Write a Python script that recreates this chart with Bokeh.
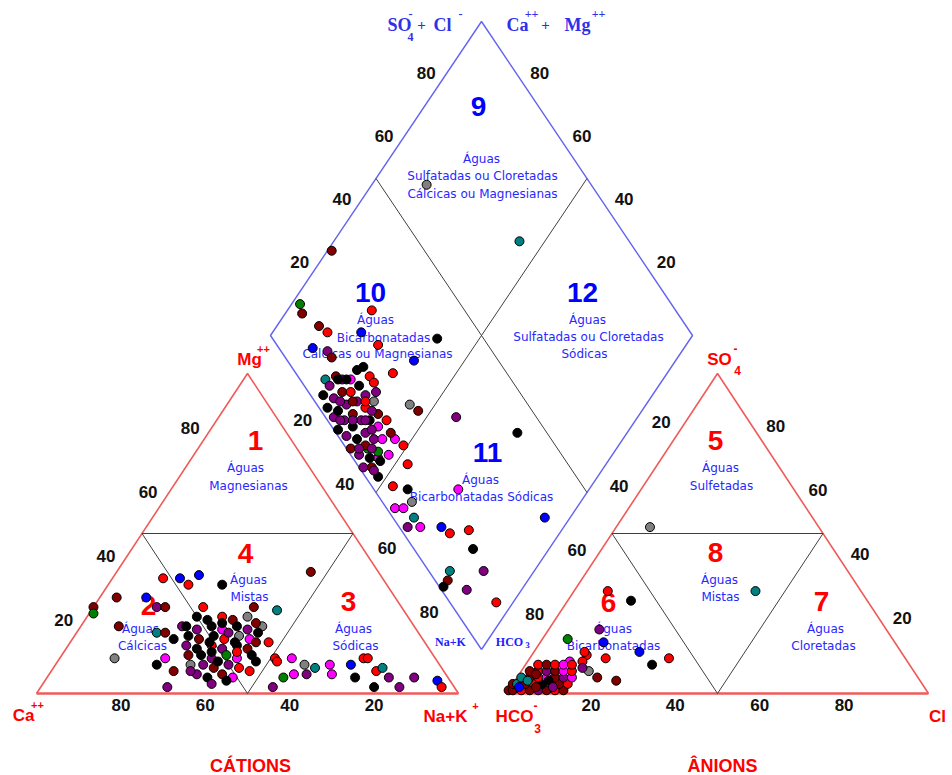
from bokeh.plotting import figure
from bokeh.models import Range1d, ColumnDataSource
from bokeh.core.properties import value
from bokeh.embed import file_html
from bokeh.resources import INLINE

# ---------------- data ----------------
PALETTE = {"k": "#000000", "p": "#800080", "dr": "#800000", "r": "#ff0000",
           "b": "#0000ff", "m": "#ff00ff", "t": "#008080", "g": "#008000", "gy": "#808080"}

tick_values = [20, 40, 60, 80]

# Cation triangle: Mg++ % and Na+K % (Ca++ = 100 - both)
cat_mg = [27, 25, 30, 36, 36, 34, 37, 34, 38, 30, 27, 27, 27, 27, 26, 21, 19, 19, 21, 11,
          11, 9, 17, 7, 2, 21, 16, 10, 7, 11, 10, 11, 9, 8, 6, 5, 6, 2, 9, 6,
          9, 11, 11, 7, 8, 5, 5, 2, 2, 5, 4, 2,
          24, 23, 24, 23, 24, 22, 21, 20, 21, 20, 21, 20, 19, 18, 17, 18, 17, 18, 17, 16,
          15, 14, 15, 14, 15, 14, 12, 12, 11, 12, 11, 12, 9, 9, 8, 9, 8, 6, 5, 6, 5,
          22, 16, 13, 19, 16, 10, 13, 7, 3, 4]
cat_nak = [0, 1, 4, 12, 16, 19, 20, 27, 46, 11, 15, 17, 26, 38, 44, 9, 19, 21, 24, 13,
           25, 24, 24, 29, 30, 43, 47, 47, 47, 51, 52, 55, 59, 62, 61, 56, 58, 55, 65, 67,
           70, 72, 73, 77, 78, 81, 73, 79, 85, 87, 93, 95,
           26, 29, 32, 35, 38, 41, 25, 28, 31, 34, 37, 40, 43, 27, 30, 33, 36, 39, 42, 44,
           28, 31, 34, 37, 40, 43, 30, 33, 36, 39, 42, 45, 32, 35, 38, 41, 44, 35, 38, 41, 44,
           33, 33, 35, 36, 39, 38, 41, 33, 40, 43]
cat_color = ["dr", "g", "dr", "r", "b", "r", "b", "k", "dr", "b", "p", "dr", "r", "dr", "t", "dr", "t", "dr", "p", "gy",
             "m", "k", "k", "dr", "p", "gy", "r", "k", "r", "r", "r", "m", "gy", "t", "p", "g", "m", "p", "m", "m",
             "b", "r", "r", "r", "t", "p", "k", "k", "p", "p", "b", "r",
             "k", "k", "r", "dr", "gy", "dr", "k", "p", "k", "m", "k", "p", "k", "k", "dr", "k", "r", "gy", "m", "dr",
             "p", "k", "r", "p", "k", "dr", "dr", "k", "p", "g", "m", "k", "gy", "p", "dr", "p", "r", "p", "k", "dr", "m",
             "k", "k", "k", "p", "k", "k", "r", "p", "p", "k"]

# Anion triangle: SO4-- % and Cl- % (HCO3- = 100 - both)
an_so4 = [52, 32, 32, 29, 20, 17, 16, 13, 11, 9, 12, 10, 11, 7, 5, 4, 10, 8, 13,
          1, 1, 1, 1, 1, 1, 1, 1, 3, 3, 3, 3, 3, 3, 3, 3, 5, 5, 5, 5, 5, 5, 5,
          7, 7, 7, 7, 7, 7, 9, 9, 9, 9, 9, 2, 4, 2, 4, 6, 2]
an_cl = [8, 43, 8, 15, 12, 6, 15, 25, 33, 30, 13, 13, 18, 16, 19, 24, 10, 14, 12,
         0, 1, 3, 5, 7, 9, 11, 13, 0, 1, 3, 5, 7, 9, 11, 13, 1, 3, 5, 7, 9, 11, 13,
         2, 4, 6, 8, 10, 12, 3, 5, 7, 9, 11, 2, 3, 6, 8, 4, 10]
an_color = ["gy", "t", "r", "k", "p", "g", "b", "b", "r", "k", "r", "r", "r", "gy", "dr", "dr", "m", "p", "r",
            "dr", "dr", "r", "dr", "p", "dr", "r", "dr", "dr", "t", "dr", "r", "k", "m", "dr", "r",
            "t", "dr", "r", "m", "dr", "p", "m", "dr", "r", "p", "dr", "m", "r",
            "r", "dr", "r", "m", "r", "b", "t", "dr", "k", "dr", "p"]

# Diamond: Ca+Mg % and SO4+Cl %
dia_cm = [56, 87, 99, 98, 96, 80, 90, 87, 79, 60, 73, 88, 84, 82, 62, 65, 80, 78, 76, 74,
          73, 74, 70, 68, 66, 56, 53, 43, 26, 54, 51, 47, 59, 55, 55, 52, 47, 43, 40, 31,
          43, 41, 6, 37, 37, 34, 29, 26, 22, 18, 20, 19, 19, 12, 13, 4,
          78, 78, 77, 75, 75, 74, 75, 72, 72, 71, 72, 71, 69, 69, 68, 69, 68, 66, 66, 65,
          66, 65, 63, 63, 62, 63, 62, 60, 60, 59, 60, 59, 57, 57, 56, 57, 56, 54, 54, 53,
          70, 67, 64, 61, 58, 73, 70, 67, 64, 61]
dia_sc = [74, 61, 28, 12, 11, 28, 13, 14, 22, 39, 24, 8, 11, 11, 30, 23, 6, 9, 10, 12,
          17, 15, 17, 17, 16, 22, 23, 31, 43, 13, 14, 12, 5, 6, 3, 3, 5, 8, 7, 20,
          2, 4, 36, 5, 2, 5, 10, 11, 16, 14, 5, 3, 1, 13, 6, 11,
          3, 6, 9, 2, 5, 8, 11, 2, 4, 7, 10, 13, 1, 4, 7, 10, 13, 2, 5, 8,
          11, 14, 1, 4, 7, 10, 13, 2, 5, 8, 11, 14, 1, 4, 7, 10, 13, 3, 6, 9,
          3, 6, 9, 3, 6, 6, 9, 12, 12, 9]
dia_color = ["t", "gy", "dr", "g", "dr", "r", "dr", "r", "b", "k", "r", "b", "p", "dr", "b", "r", "t", "dr", "p", "m",
             "k", "k", "r", "r", "p", "gy", "dr", "p", "k", "m", "r", "r", "g", "m", "dr", "k", "r", "k", "gy", "m",
             "m", "m", "b", "t", "p", "m", "b", "r", "r", "k", "t", "dr", "k", "p", "p", "r",
             "k", "p", "k", "k", "p", "dr", "k", "p", "k", "p", "r", "k", "k", "p", "dr", "p", "p", "p", "k", "p",
             "r", "gy", "dr", "k", "p", "k", "dr", "p", "dr", "p", "m", "r", "p", "k", "g", "m", "dr", "p", "k", "m",
             "p", "p", "p", "p", "p", "p", "dr", "r", "p", "p"]

# ---------------- geometry ----------------
W, H = 422.0, 320.0
CAT_X0, AN_X0, BASE_Y = 36.0, 506.0, 693.0
DB_X, DB_Y, DW, DH = 481.0, 649.0, 211.0, 314.0

RED = "#f05a5a"
BLUE = "#6464f0"
GRAY = "#404040"
TXT_BLUE = "#2828ff"


def tri(x0, top, right):
    xs = [x0 + W * (r + t / 2.0) / 100.0 for t, r in zip(top, right)]
    ys = [BASE_Y - H * t / 100.0 for t in top]
    return xs, ys


def dia(cm, sc):
    xs = [DB_X + DW * (s - c) / 100.0 for c, s in zip(cm, sc)]
    ys = [DB_Y - DH * (s + c) / 100.0 for c, s in zip(cm, sc)]
    return xs, ys


p = figure(width=952, height=775, x_range=Range1d(0, 952), y_range=Range1d(775, 0),
           output_backend="svg", toolbar_location=None, min_border=0)
p.xaxis.visible = False
p.yaxis.visible = False
p.grid.visible = False
p.outline_line_color = None
p.background_fill_color = "white"
p.border_fill_color = "white"

# ---- outlines ----
for x0 in (CAT_X0, AN_X0):
    xs, ys = tri(x0, [0, 100, 0], [0, 0, 100])
    p.line(xs, ys, line_color=RED, line_width=1.6)
    xs, ys = tri(x0, [0, 0], [0, 100])
    p.line(xs, ys, line_color=RED, line_width=2.6)
    xs, ys = tri(x0, [50, 50], [0, 50])
    p.line(xs, ys, line_color=GRAY, line_width=1)
    xs, ys = tri(x0, [50, 0, 50], [0, 50, 50])
    p.line(xs, ys, line_color=GRAY, line_width=1)

xs, ys = dia([0, 0, 100, 100, 0], [0, 100, 100, 0, 0])
p.line(xs, ys, line_color=BLUE, line_width=1.4)
xs, ys = dia([100, 0], [50, 50])
p.line(xs, ys, line_color=GRAY, line_width=1)
xs, ys = dia([50, 50], [0, 100])
p.line(xs, ys, line_color=GRAY, line_width=1)

# ---- tick labels ----
TICK_FONT = "Liberation Sans"


def ticks(xs, ys, labels, dx, dy):
    p.text(x=xs, y=ys, text=[str(v) for v in labels], x_offset=dx, y_offset=dy,
           text_color="#111111", text_font=value(TICK_FONT), text_font_style="bold",
           text_font_size="17px", text_align="center", text_baseline="middle")


n = len(tick_values)
xs, ys = tri(CAT_X0, [0] * n, [100 - v for v in tick_values]); ticks(xs, ys, tick_values, 0, 11)
xs, ys = tri(CAT_X0, tick_values, [0] * n); ticks(xs, ys, tick_values, -15, -10)
xs, ys = tri(CAT_X0, [100 - v for v in tick_values], tick_values); ticks(xs, ys, tick_values, 13, -18)
xs, ys = tri(AN_X0, [0] * n, tick_values); ticks(xs, ys, tick_values, 0, 11)
xs, ys = tri(AN_X0, [100 - v for v in tick_values], [0] * n); ticks(xs, ys, tick_values, -14, -16)
xs, ys = tri(AN_X0, tick_values, [100 - v for v in tick_values]); ticks(xs, ys, tick_values, 16, -12)
xs, ys = dia([100] * n, tick_values); ticks(xs, ys, tick_values, -13, -11)
xs, ys = dia(tick_values, [100] * n); ticks(xs, ys, tick_values, 16, -11)


# ---- texts ----
def txt(x, y, s, color, size, font="Liberation Sans", bold=True, align="center"):
    p.text(x=[x], y=[y], text=[s], text_color=color, text_font_size=f"{size}px",
           text_font=value(font), text_font_style="bold" if bold else "normal",
           text_align=align, text_baseline="middle")


def region(num, nx, ny, numcolor, lines):
    txt(nx, ny, num, numcolor, 28)
    for (lx, ly, s) in lines:
        txt(lx, ly, s, TXT_BLUE, 12, font="DejaVu Sans", bold=False)


region("1", 255, 440, "#ff0000", [(245, 467, "Águas"), (248, 485, "Magnesianas")])
region("4", 245, 553, "#ff0000", [(248, 579, "Águas"), (249, 596, "Mistas")])
region("2", 148, 605, "#ff0000", [(140, 628, "Águas"), (142, 645, "Cálcicas")])
region("3", 348, 601, "#ff0000", [(353, 628, "Águas"), (355, 645, "Sódicas")])
region("5", 715, 440, "#ff0000", [(720, 467, "Águas"), (721, 485, "Sulfetadas")])
region("8", 715, 552, "#ff0000", [(719, 579, "Águas"), (720, 596, "Mistas")])
region("6", 608, 602, "#ff0000", [(613, 628, "Águas"), (613, 645, "Bicarbonatadas")])
region("7", 821, 601, "#ff0000", [(825, 628, "Águas"), (823, 645, "Cloretadas")])
region("9", 478, 106, "#0000ff", [(481, 158, "Águas"), (482, 175, "Sulfatadas ou Cloretadas"),
                                  (482, 193, "Cálcicas ou Magnesianas")])
region("10", 370, 292, "#0000ff", [(375, 319, "Águas"), (383, 337, "Bicarbonatadas"),
                                   (377, 353, "Cálcicas ou Magnesianas")])
region("12", 582, 292, "#0000ff", [(587, 319, "Águas"), (588, 336, "Sulfatadas ou Cloretadas"),
                                   (584, 353, "Sódicas")])
region("11", 487, 452, "#0000ff", [(480, 479, "Águas"), (481, 496, "Bicarbonatadas Sódicas")])

# corner labels (red)
LBL = "Liberation Sans"
txt(249, 359, "Mg", "#ff0000", 17, LBL)
txt(263, 348, "++", "#ff0000", 11, LBL)
txt(23, 715, "Ca", "#ff0000", 17, LBL)
txt(37, 704, "++", "#ff0000", 11, LBL)
txt(445, 716, "Na+K", "#ff0000", 17, LBL)
txt(475, 705, "+", "#ff0000", 11, LBL)
txt(719, 359, "SO", "#ff0000", 17, LBL)
txt(735, 348, "-", "#ff0000", 12, LBL)
txt(737, 370, "4", "#ff0000", 12, LBL)
txt(514, 716, "HCO", "#ff0000", 17, LBL)
txt(535, 705, "-", "#ff0000", 12, LBL)
txt(537, 728, "3", "#ff0000", 12, LBL)
txt(937, 716, "Cl", "#ff0000", 17, LBL)
txt(250, 765, "CÁTIONS", "#ff0000", 18, LBL)
txt(722, 765, "ÂNIONS", "#ff0000", 18, LBL)

# diamond headers (blue serif)
SER = "Liberation Serif"
HB = "#3030e8"
txt(399, 24, "SO", HB, 18, SER)
txt(410, 13, "-", HB, 12, SER)
txt(410, 36, "4", HB, 12, SER)
txt(421, 24, "+", HB, 15, SER)
txt(442, 24, "Cl", HB, 18, SER)
txt(460, 13, "-", HB, 12, SER)
txt(517, 24, "Ca", HB, 18, SER)
txt(531, 13, "++", HB, 12, SER)
txt(545, 24, "+", HB, 15, SER)
txt(577, 24, "Mg", HB, 18, SER)
txt(598, 13, "++", HB, 12, SER)

# diamond bottom labels
txt(450, 641, "Na+K", "#2020ff", 12, SER)
txt(509, 641, "HCO", "#2020ff", 12, SER)
txt(527, 644, "3", "#2020ff", 9, SER)


# ---- points ----
def pts(xs, ys, codes):
    m = min(len(xs), len(ys), len(codes))
    src = ColumnDataSource(dict(x=xs[:m], y=ys[:m], c=[PALETTE[c] for c in codes[:m]]))
    p.scatter("x", "y", source=src, marker="circle", size=9, fill_color="c",
              line_color="#000000", line_width=1)


xs, ys = tri(CAT_X0, cat_mg, cat_nak); pts(xs, ys, cat_color)
xs, ys = tri(AN_X0, an_so4, an_cl); pts(xs, ys, an_color)
xs, ys = dia(dia_cm, dia_sc); pts(xs, ys, dia_color)

open("out.html", "w").write(file_html(p, INLINE))
